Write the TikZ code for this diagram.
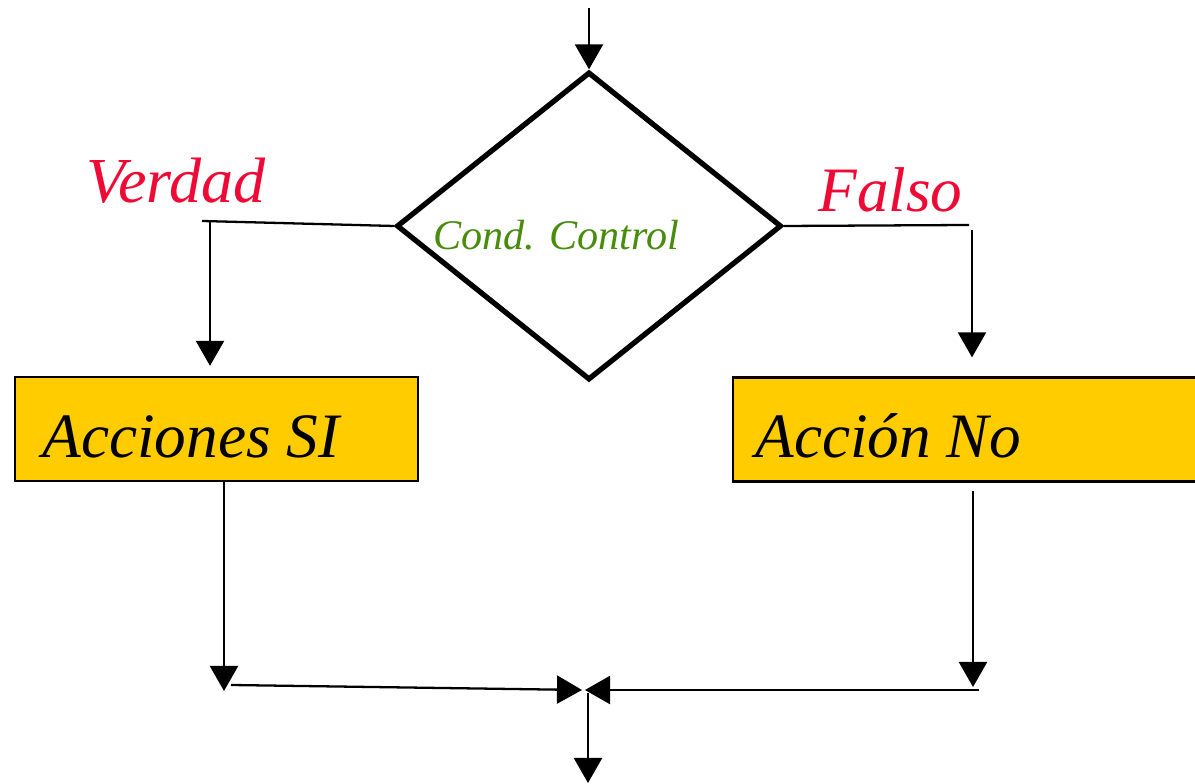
\documentclass[tikz,border=0pt]{standalone}
\usepackage{fontspec}
\setmainfont{Liberation Serif}[ItalicFont={Liberation Serif Italic}]
\usetikzlibrary{shapes.geometric,arrows.meta}
\definecolor{rojo}{RGB}{238,10,52}
\definecolor{verde}{RGB}{72,140,12}
\definecolor{oro}{RGB}{255,204,0}
\tikzset{
  flecha/.style={line width=1.3pt,-{Triangle[width=0.56cm,length=0.5cm]}},
  linea/.style={line width=1.3pt},
  caja/.style={draw,line width=1.3pt,fill=oro,minimum height=2.08cm,inner sep=0},
  texto/.style={anchor=base west,inner sep=0}
}

\begin{document}
\begin{tikzpicture}
  \useasboundingbox (0,0) rectangle (23.9,15.68);
  \clip (0,0) rectangle (23.9,15.68);
  % condicion
  \node[diamond,draw,line width=3pt,minimum width=7.7cm,minimum height=6.16cm,inner sep=0] (cond) at (11.78,11.16) {};
  \node[texto,text=verde,font=\itshape\fontsize{24}{28}\selectfont] (condtxt) at (8.66,10.68) {Cond. Control};
  \node[texto,text=rojo,font=\itshape\fontsize{36.5}{40}\selectfont] (verdad) at (1.72,11.62) {Verdad};
  \node[texto,text=rojo,font=\itshape\fontsize{36}{40}\selectfont] (falso) at (16.36,11.44) {Falso};
  % acciones
  \node[caja,minimum width=8.06cm] (si) at (4.33,7.10) {};
  \node[caja,minimum width=10cm] (no) at (19.66,7.09) {};
  \node[texto,font=\itshape\fontsize{36}{40}\selectfont] (sitxt) at (0.84,6.52) {Acciones SI};
  \node[texto,font=\itshape\fontsize{36}{40}\selectfont] (notxt) at (15.10,6.52) {Acción No};

  % puntos libres
  \coordinate (arriba) at (11.78,15.52);
  \coordinate (v1) at (4.04,11.26);
  \coordinate (v2) at (4.20,11.24);
  \coordinate (f1) at (19.38,11.18);
  \coordinate (f2) at (19.44,11.08);
  \coordinate (b1) at (4.48,1.86);
  \coordinate (b2) at (4.62,1.98);
  \coordinate (b3) at (19.46,1.94);
  \coordinate (b4) at (19.58,1.88);
  \coordinate (m) at (11.70,1.88);
  \coordinate (fin) at (11.76,0.02);

  \draw[flecha] (arriba) -- (cond.north);
  \draw[linea] (cond.west) -- (v1);
  \draw[flecha,shorten >=0.2cm] (v2) -- (v2 |- si.north);
  \draw[linea] (cond.east) -- (f1);
  \draw[flecha,shorten >=0.38cm] (f2) -- (f2 |- no.north);
  \draw[flecha] (b1 |- si.south) -- (b1);
  \draw[flecha,shorten <=0.16cm] (b3 |- no.south) -- (b3);
  \draw[flecha] (b2) -- ([xshift=-0.06cm]m);
  \draw[flecha] (b4) -- (m);
  \draw[flecha] ([xshift=0.06cm,yshift=-0.06cm]m) -- (fin);
\end{tikzpicture}
\end{document}
